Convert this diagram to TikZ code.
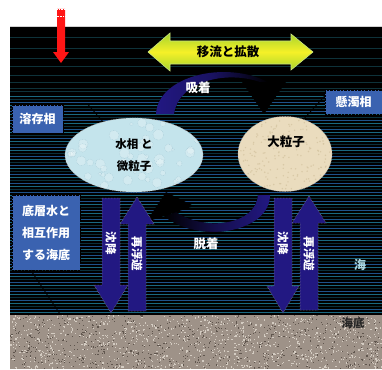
\documentclass[tikz,border=0pt]{standalone}
\usepackage{fontspec}
\setmainfont{Noto Sans CJK JP}
\usetikzlibrary{shapes.geometric}
\definecolor{arcnavy}{RGB}{34,24,130}
\definecolor{boxblue}{RGB}{58,98,176}
\definecolor{waterblue}{RGB}{196,228,236}
\definecolor{bubbleedge}{RGB}{165,202,214}
\definecolor{grain}{RGB}{234,220,190}
\definecolor{graindark}{RGB}{205,188,150}
\definecolor{seabed}{RGB}{158,146,136}
\definecolor{seabedlight}{RGB}{212,204,194}
\definecolor{seabeddark}{RGB}{96,86,78}
\definecolor{stripeDim}{RGB}{14,50,58}
\definecolor{stripeA}{RGB}{26,104,128}
\definecolor{stripeB}{RGB}{10,48,60}
\definecolor{stripeC}{RGB}{30,82,138}
\definecolor{advyellow}{RGB}{245,240,40}
\definecolor{advgreen}{RGB}{165,212,45}
\definecolor{seacyan}{RGB}{170,215,225}
\definecolor{inflowred}{RGB}{255,22,22}

\begin{document}
\begin{tikzpicture}[
    x=1pt, y=-1pt,
    phase box/.style={rectangle,fill=boxblue,draw=black,densely dotted,text=white,align=center,
      inner sep=0pt,font=\bfseries\fontsize{12}{22}\selectfont},
    particle node/.style={ellipse,draw=white!70!black,densely dotted,line width=0.6pt,inner sep=0pt},
    flow arrow/.style={fill=arcnavy,draw=black!45,densely dotted,line width=0.5pt},
    flow text/.style={text=white,rotate=-90,inner sep=0pt,font=\bfseries\fontsize{11.5}{12}\selectfont},
    swap text/.style={text=white,inner sep=0pt,font=\bfseries\fontsize{12.5}{14}\selectfont},
    callout/.style={draw=black,line width=0.8pt}]

  \useasboundingbox (0,0) rectangle (382,369);

  % sea water with its stripes
  \fill[black] (10,27) rectangle (382,315);
  \draw[gray!35,line width=1pt] (10,26.5) -- (382,26.5);
  \foreach \y in {37,48,58,66,75,82,88,91}
    \draw[stripeDim,line width=0.8pt] (10,\y) -- (382,\y);
  \foreach \y in {96,105,...,312}
    \draw[stripeA,line width=1pt] (10,\y) -- (382,\y);
  \foreach \y in {99,108,...,312}
    \draw[stripeB,line width=1pt] (10,\y) -- (382,\y);
  \foreach \y in {102,111,...,312}
    \draw[stripeC,line width=1pt] (10,\y) -- (382,\y);

  % sea floor
  \fill[seabed] (10,315) rectangle (382,369);
  \pgfmathsetseed{42}
  \foreach \i in {1,...,1000} {
    \pgfmathsetmacro\sx{10+371*rnd}
    \pgfmathsetmacro\sy{315+53*rnd}
    \fill[seabedlight] (\sx,\sy) rectangle ++(1.2,1.2);
  }
  \foreach \i in {1,...,700} {
    \pgfmathsetmacro\sx{10+371*rnd}
    \pgfmathsetmacro\sy{315+53*rnd}
    \fill[seabeddark] (\sx,\sy) rectangle ++(1.1,1.1);
  }

  % inflow from above
  \fill[inflowred] (57,9) -- (65,9) -- (65,52) -- (69,52) -- (61,63) -- (53,52) -- (57,52) -- cycle;
  \draw[white,densely dotted,line width=0.6pt] (55.5,9.5) rectangle (66.5,16.5);

  % advection and diffusion
  \filldraw[top color=advgreen,bottom color=advgreen,middle color=advyellow,draw=advgreen!60!white,line width=0.6pt]
    (148,52) -- (170,33) -- (170,41) -- (291,41) -- (291,34) -- (313,52)
    -- (291,70) -- (291,64) -- (170,64) -- (170,71) -- cycle;
  \node[inner sep=0pt,font=\bfseries\fontsize{12.5}{14}\selectfont] (Advection) at (228,52) {移流と拡散};

  % phases
  \node[particle node,fill=waterblue,minimum width=138,minimum height=74,align=center,
    font=\bfseries\fontsize{11.5}{22}\selectfont,
    path picture={
      \pgfmathsetseed{5}
      \foreach \b in {1,...,60} {
        \pgfmathsetmacro\bx{138*(rnd-0.5)}
        \pgfmathsetmacro\by{74*(rnd-0.5)}
        \pgfmathsetmacro\br{1.5+4*rnd}
        \draw[bubbleedge,fill=white,fill opacity=0.25,line width=0.4pt]
          ([shift={(\bx pt,\by pt)}]path picture bounding box.center) circle (\br pt);
      }
    }] (WaterPhase) at (134,155) {水相 と\\微粒子};
  \node[particle node,fill=grain,minimum width=94,minimum height=75,
    path picture={
      \pgfmathsetseed{9}
      \foreach \g in {1,...,220} {
        \pgfmathsetmacro\gx{94*(rnd-0.5)}
        \pgfmathsetmacro\gy{75*(rnd-0.5)}
        \fill[graindark,opacity=0.6]
          ([shift={(\gx pt,\gy pt)}]path picture bounding box.center) circle (0.8pt);
      }
    }] (LargeParticle) at (285,154) {};
  \node[inner sep=0pt,font=\bfseries\fontsize{12.5}{14}\selectfont] (LargeText) at (286,142) {大粒子};

  \node[phase box,minimum width=51,minimum height=28] (Dissolved) at (37.5,119) {溶存相};
  \node[phase box,minimum width=57,minimum height=24] (Suspended) at (353.5,102) {懸濁相};
  \node[phase box,minimum width=68,minimum height=75] (BedLayer) at (46,232.5) {底層水と\\相互作用\\する海底};

  \coordinate (FloorPoint) at (60,314);
  \draw[callout] (Dissolved.north east) -- ++(25,0) -- (WaterPhase.133);
  \draw[callout] (Suspended.168) -- (LargeParticle.62);
  \draw[callout] (BedLayer.-112) -- (FloorPoint);

  % adsorption / desorption
  \fill[left color=arcnavy,right color=black,middle color=arcnavy!75!black]
    (156,114) .. controls (158,76) and (225,60) .. (268,82)
    -- (260,82) .. controls (225,70) and (178,82) .. (174,114) -- cycle;
  \fill[black] (242,82) -- (286,82) -- (264,114) -- cycle;
  \node[swap text] (Adsorption) at (198,88) {吸着};

  \fill[left color=black,right color=arcnavy,middle color=arcnavy!60!black]
    (270,195) .. controls (270,232) and (200,245) .. (164,216)
    -- (176,212) .. controls (205,232) and (256,225) .. (258,195) -- cycle;
  \fill[black] (146,222) -- (194,206) -- (166,192) -- cycle;
  \node[swap text] (Desorption) at (206,244) {脱着};

  % settling and resuspension
  \filldraw[flow arrow] (102,198) -- (120,198) -- (120,285) -- (128,285) -- (111,313) -- (94,285) -- (102,285) -- cycle;
  \filldraw[flow arrow] (128,311) -- (146,311) -- (146,224) -- (154,224) -- (137,197) -- (120,224) -- (128,224) -- cycle;
  \filldraw[flow arrow] (274,198) -- (292,198) -- (292,286) -- (299,286) -- (283,313) -- (267,286) -- (274,286) -- cycle;
  \filldraw[flow arrow] (300,310) -- (318,310) -- (318,223) -- (326,223) -- (309,196) -- (292,223) -- (300,223) -- cycle;
  \node[flow text] (SettleLeft) at (111,243) {沈降};
  \node[flow text] (ResuspendLeft) at (137,254) {再浮遊};
  \node[flow text] (SettleRight) at (283,243) {沈降};
  \node[flow text] (ResuspendRight) at (309,254) {再浮遊};

  \node[text=seacyan,inner sep=0pt,font=\bfseries\fontsize{12}{14}\selectfont] (Sea) at (360,265) {海};
  \node[text=black!85,inner sep=0pt,font=\bfseries\fontsize{11.5}{14}\selectfont] (SeaFloor) at (353,323) {海底};
\end{tikzpicture}
\end{document}
